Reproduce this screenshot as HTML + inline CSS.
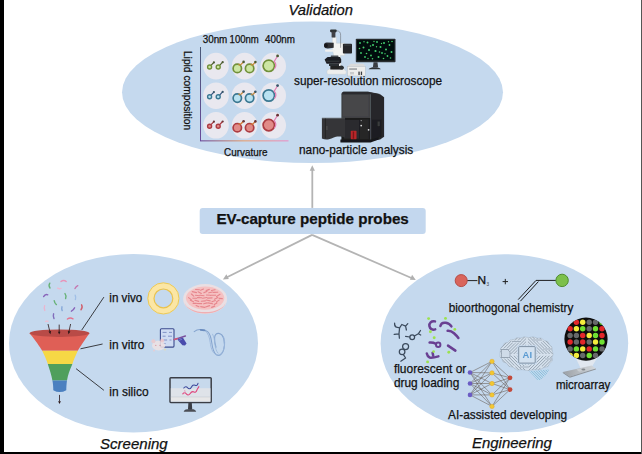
<!DOCTYPE html>
<html><head><meta charset="utf-8">
<style>
html,body{margin:0;padding:0;background:#fff;}
body{width:642px;height:454px;overflow:hidden;position:relative;}
svg{position:absolute;left:0;top:0;display:block;}
text{font-family:"Liberation Sans",sans-serif;fill:#111;stroke:#111;stroke-width:.25px;}
</style></head><body>
<svg width="642" height="454" viewBox="0 0 642 454">
<defs>
<linearGradient id="axv" x1="0" y1="0" x2="0" y2="1"><stop offset="0" stop-color="#4a5a78"/><stop offset="1" stop-color="#6a4a9a"/></linearGradient>
<linearGradient id="axh" x1="0" y1="0" x2="1" y2="0"><stop offset="0" stop-color="#6a4a9a"/><stop offset="0.5" stop-color="#e8a070"/><stop offset="1" stop-color="#e890c8"/></linearGradient>
<linearGradient id="slg" x1="0" y1="0" x2="1" y2="0"><stop offset="0" stop-color="#9a9fa5"/><stop offset=".45" stop-color="#b4b9be"/><stop offset="1" stop-color="#d4d8dc"/></linearGradient>
<filter id="b3" x="-10%" y="-10%" width="120%" height="120%"><feGaussianBlur stdDeviation="0.35"/></filter>
</defs>
<rect x="0" y="0" width="642" height="454" fill="#fff"/>
<!-- ELLIPSES -->
<g id="ellipses" fill="#c5d9ee">
<ellipse cx="312.5" cy="92.3" rx="190.5" ry="70.7"/>
<ellipse cx="133.5" cy="343.2" rx="124.5" ry="89.2"/>
<ellipse cx="504.4" cy="343.3" rx="123.8" ry="89.1"/>
</g>
<!-- ARROWS -->
<g id="arrows" stroke="#b4b4b4" stroke-width="1.8" fill="none" stroke-linecap="butt">
<path d="M312.3 207.9V169"/><path d="M312.3 165.2l-2.6 5.6h5.2z" fill="#b0b0b0" stroke="none"/>
<path d="M312.1 234.9L226 277.8"/><path d="M222.9 279.4l3.5-5.2 2.4 4.7z" fill="#b0b0b0" stroke="none"/>
<path d="M312.1 234.9L412.6 278.5"/><path d="M415.8 279.9l-3.700000000000001-5.1-2.2 4.9z" fill="#b0b0b0" stroke="none"/>
</g>
<!-- CENTER BOX -->
<rect x="199.7" y="207.9" width="226" height="26" rx="3" fill="#c3d7ee"/>
<text x="216.5" y="224.2" font-size="15" font-weight="bold" textLength="192.3" lengthAdjust="spacingAndGlyphs">EV-capture peptide probes</text>
<!-- TITLES -->
<g font-style="italic" font-size="15">
<text x="288.5" y="15.2" textLength="64.5" lengthAdjust="spacingAndGlyphs">Validation</text>
<text x="100" y="448.6" textLength="67.7" lengthAdjust="spacingAndGlyphs">Screening</text>
<text x="471.9" y="448.2" textLength="80" lengthAdjust="spacingAndGlyphs">Engineering</text>
</g>
<g id="top">
<!-- column labels -->
<g font-size="10">
<text x="202.7" y="43" textLength="24.6" lengthAdjust="spacingAndGlyphs">30nm</text>
<text x="229.6" y="43" textLength="29.2" lengthAdjust="spacingAndGlyphs">100nm</text>
<text x="265" y="43" textLength="30" lengthAdjust="spacingAndGlyphs">400nm</text>
<text x="224" y="155.5" textLength="43.5" lengthAdjust="spacingAndGlyphs">Curvature</text>
<text transform="translate(184.2 50.9) rotate(90)" font-size="10.3" textLength="79.2" lengthAdjust="spacingAndGlyphs">Lipid composition</text>
</g>
<!-- axes -->
<rect x="200" y="47" width="1" height="94" fill="url(#axv)"/>
<rect x="200" y="140.3" width="88.5" height="1.1" fill="url(#axh)"/>
<!-- grid discs -->
<g fill="#e9e8ef">
<ellipse cx="216" cy="66.1" rx="12.8" ry="13.3"/><ellipse cx="244.6" cy="66.1" rx="12.8" ry="13.3"/><ellipse cx="273.2" cy="66.1" rx="12.8" ry="13.3"/>
<ellipse cx="216" cy="95.7" rx="12.8" ry="13.3"/><ellipse cx="244.6" cy="95.7" rx="12.8" ry="13.3"/><ellipse cx="273.2" cy="95.7" rx="12.8" ry="13.3"/>
<ellipse cx="216" cy="125.3" rx="12.8" ry="13.3"/><ellipse cx="244.6" cy="125.3" rx="12.8" ry="13.3"/><ellipse cx="273.2" cy="125.3" rx="12.8" ry="13.3"/>
</g>
<!-- vesicle rows -->
<g id="ves-g" stroke="#71903a" fill="#cde6a4">
 <path d="M211 65.4l2.9-3M219.6 65.4l3-3.2" stroke="#4e5e2c" stroke-width="1.2" fill="none"/>
 <circle cx="209.6" cy="67" r="2" stroke-width="1.4"/><circle cx="218.2" cy="67" r="2" stroke-width="1.4"/>
 <path d="M240.4 65l3.2-3.100000000000001M252.6 65l2.8-2.900000000000002" stroke="#d08e3c" stroke-width="1.3" fill="none"/>
 <circle cx="237.3" cy="68.4" r="4.2" stroke-width="1.7"/><circle cx="249.6" cy="68.4" r="4.2" stroke-width="1.7"/>
 <path d="M240.400000000000006 65.6a4.2 4.2 0 0 0-2-1.300000000000001M252.7 65.6a4.2 4.2 0 0 0-2-1.300000000000001" stroke="#d08e3c" stroke-width="1.5" fill="none" opacity=".8"/>
 <circle cx="268.8" cy="65.8" r="5.7" stroke-width="1.7"/>
 <path d="M277.6 56l-3.4 5.400000000000001a5.7 5.7 0 0 1 .2 7.4" stroke="#e37fb4" stroke-width="1.2" fill="none"/>
 <g fill="#4b5a34" stroke="none"><circle cx="213.9" cy="62.4" r="1.1"/><circle cx="222.7" cy="62.2" r="1.1"/><circle cx="243.6" cy="61.9" r="1.3"/><circle cx="255.4" cy="62.1" r="1.3"/><circle cx="277.6" cy="55.9" r="1.4"/></g>
</g>
<g id="ves-b" stroke="#3b7892" fill="#b9e2f1" transform="translate(0 29.7)">
 <path d="M211 65.4l2.9-3M219.6 65.4l3-3.2" stroke="#34527c" stroke-width="1.2" fill="none"/>
 <circle cx="209.6" cy="67" r="2" stroke-width="1.4"/><circle cx="218.2" cy="67" r="2" stroke-width="1.4"/>
 <path d="M240.4 65l3.2-3.100000000000001M252.6 65l2.8-2.900000000000002" stroke="#d08e3c" stroke-width="1.3" fill="none"/>
 <circle cx="237.3" cy="68.4" r="4.2" stroke-width="1.7"/><circle cx="249.6" cy="68.4" r="4.2" stroke-width="1.7"/>
 <path d="M240.400000000000006 65.6a4.2 4.2 0 0 0-2-1.300000000000001M252.7 65.6a4.2 4.2 0 0 0-2-1.300000000000001" stroke="#d08e3c" stroke-width="1.5" fill="none" opacity=".8"/>
 <circle cx="268.8" cy="65.8" r="5.7" stroke-width="1.7"/>
 <path d="M277.6 56l-3.4 5.400000000000001a5.7 5.7 0 0 1 .2 7.4" stroke="#e37fb4" stroke-width="1.2" fill="none"/>
 <g fill="#37566a" stroke="none"><circle cx="213.9" cy="62.4" r="1.1"/><circle cx="222.7" cy="62.2" r="1.1"/><circle cx="243.6" cy="61.9" r="1.3"/><circle cx="255.4" cy="62.1" r="1.3"/><circle cx="277.6" cy="55.9" r="1.4"/></g>
</g>
<g id="ves-r" stroke="#ac3c42" fill="#e18b88" transform="translate(0 59.3)">
 <path d="M211 65.4l2.9-3M219.6 65.4l3-3.2" stroke="#a8323c" stroke-width="1.2" fill="none"/>
 <circle cx="209.6" cy="67" r="2" stroke-width="1.4"/><circle cx="218.2" cy="67" r="2" stroke-width="1.4"/>
 <path d="M240.4 65l3.2-3.100000000000001M252.6 65l2.8-2.900000000000002" stroke="#d57c34" stroke-width="1.3" fill="none"/>
 <circle cx="237.3" cy="68.4" r="4.2" stroke-width="1.7"/><circle cx="249.6" cy="68.4" r="4.2" stroke-width="1.7"/>
 <path d="M240.400000000000006 65.6a4.2 4.2 0 0 0-2-1.300000000000001M252.7 65.6a4.2 4.2 0 0 0-2-1.300000000000001" stroke="#d57c34" stroke-width="1.5" fill="none" opacity=".8"/>
 <circle cx="268.8" cy="65.8" r="5.7" stroke-width="1.7"/>
 <path d="M277.6 56l-3.4 5.400000000000001a5.7 5.7 0 0 1 .2 7.4" stroke="#e37fb4" stroke-width="1.2" fill="none"/>
 <g fill="#6a3536" stroke="none"><circle cx="213.9" cy="62.4" r="1.1"/><circle cx="222.7" cy="62.2" r="1.1"/><circle cx="243.6" cy="61.9" r="1.3"/><circle cx="255.4" cy="62.1" r="1.3"/><circle cx="277.6" cy="55.9" r="1.4"/></g>
</g>
<!-- instrument labels -->
<g font-size="12.8">
<text x="294" y="84.9" textLength="148" lengthAdjust="spacingAndGlyphs">super-resolution microscope</text>
<text x="299" y="154.4" textLength="114.2" lengthAdjust="spacingAndGlyphs">nano-particle analysis</text>
</g>
<g id="microscope" filter="url(#b3)">
 <!-- monitor -->
 <rect x="355.8" y="38.7" width="39.7" height="23.6" rx="0.8" fill="#2b2e33"/>
 <rect x="357" y="39.9" width="37.3" height="20.6" fill="#060907"/>
 <g fill="#3fd072">
 <circle cx="360" cy="43" r=".9"/><circle cx="363.5" cy="47.5" r="1"/><circle cx="361" cy="53" r=".9"/><circle cx="365" cy="57" r=".9"/><circle cx="367.5" cy="42.5" r="1"/><circle cx="369" cy="50" r="1"/><circle cx="371" cy="55.5" r=".9"/><circle cx="373" cy="45" r="1"/><circle cx="375.5" cy="51" r="1.1"/><circle cx="377" cy="42" r=".9"/><circle cx="378.5" cy="57" r="1"/><circle cx="380.5" cy="47" r="1"/><circle cx="382" cy="53" r=".9"/><circle cx="384" cy="43" r="1"/><circle cx="386" cy="49.5" r="1"/><circle cx="387.5" cy="56" r=".9"/><circle cx="389.5" cy="45" r=".9"/><circle cx="391.5" cy="52" r="1"/><circle cx="392" cy="41.5" r=".8"/><circle cx="366.5" cy="53.5" r=".8"/><circle cx="372.5" cy="58.800000000000004" r=".8"/><circle cx="383.5" cy="58.5" r=".8"/><circle cx="359.500000000000006" cy="48.5" r=".8"/><circle cx="364" cy="41.800000000000004" r=".7"/><circle cx="370.5" cy="46" r=".8"/><circle cx="376.5" cy="46.800000000000004" r=".7"/><circle cx="379.500000000000006" cy="52" r=".8"/><circle cx="388.5" cy="41.800000000000004" r=".7"/><circle cx="390.5" cy="58" r=".8"/><circle cx="385" cy="53.800000000000004" r=".7"/><circle cx="368" cy="58.5" r=".7"/><circle cx="374" cy="41.5" r=".7"/><circle cx="381.500000000000006" cy="43.5" r=".7"/>
 </g>
 <path d="M373.5 62.3h4l.6 5h-5.2z" fill="#3a3d42"/>
 <path d="M368.6 69.2c1-1.6 3-2 6-2s5.2.4 6.2 2z" fill="#2e3136"/>
 <!-- base (white) -->
 <path d="M327 70.5l3-1.800000000000001h13l3.2 2.2v2.6l-1.2.8h-17l-1-.8z" fill="#eeeeed" stroke="#c5c9cd" stroke-width=".4"/>
 <!-- column -->
 <path d="M332.4 37.2h4v6h8.2v12.4h-4.2l.6 14h-8l.6-14.600000000000001-1.200000000000001-5.4z" fill="#f3f3f2" stroke="#c5c9cd" stroke-width=".4"/>
 <!-- camera -->
 <rect x="330.1" y="29.4" width="6.5" height="2.8" rx=".9" fill="#2f3135"/>
 <rect x="331.6" y="31.8" width="3.8" height="5.6" rx=".5" fill="#3f4145"/>
 <path d="M336.6 30.8c3 .2 4 1.6 4 4.4v12.600000000000001" fill="none" stroke="#5c5f63" stroke-width=".5"/>
 <!-- eyepieces -->
 <path d="M324 44.4q.4-2 3-1.800000000000001l6.7.2v5l-5.7.6q-3.600000000000001.2-4-2z" fill="#2d2f33"/>
 <ellipse cx="326" cy="45.6" rx="1.8" ry="2" fill="#17181a"/>
 <!-- white plate under eyepiece -->
 <rect x="325.1" y="49.5" width="10" height="2.2" rx=".6" fill="#f0f0ef"/>
 <!-- camera box right -->
 <rect x="342.9" y="43.7" width="9.1" height="9.8" rx=".8" fill="#25272b"/>
 <rect x="344" y="44.6" width="7" height="1" fill="#3b3e43"/>
 <!-- objectives + stage (dark cluster) -->
 <path d="M331 55.6h7.2l1 3.4h-9.200000000000001z" fill="#4a4d52"/>
 <path d="M324.6 59.4l3-2.400000000000001h12.4l1.2 2.2v3.2l-2 1.4h-12.6z" fill="#1d1e21"/>
 <path d="M326.5 61.2h13" stroke="#4a4d52" stroke-width=".6"/>
 <rect x="329" y="63.6" width="10" height="2.4" fill="#2b2d31"/>
 <path d="M330.3 66h10.6l3 1.4-1 2.2h-12.600000000000001z" fill="#202124"/>
 <ellipse cx="341.4" cy="67.4" rx="2.4" ry="2" fill="#2b2d30"/>
 <!-- controller box -->
 <path d="M347.5 66.4l3.2-2.600000000000001h12.8l1.700000000000001 2.600000000000001z" fill="#d9dadb"/>
 <rect x="347.5" y="66.4" width="17.7" height="9.6" fill="#ededec" stroke="#b4b8bc" stroke-width=".4"/>
 <rect x="349.2" y="68.4" width="7.8" height="1.3" fill="#8b8f94"/>
 <rect x="358.4" y="71.6" width="1.3" height="3.4" fill="#3a3c40"/><rect x="360.8" y="71.6" width="1.3" height="3.4" fill="#3a3c40"/>
 <rect x="350" y="72" width="4" height="2.4" fill="#c9cbcd"/>
</g>

<g id="nta" filter="url(#b3)">
 <!-- right side -->
 <path d="M370.3 92.6l9.8 1.6 4 3v39.6l-4 2.6-9.8 1.8z" fill="#26272a"/>
 <path d="M372 119.5h9.6v17.2l-9.6 3z" fill="#1d1e20"/>
 <rect x="377.6" y="121.5" width="2.2" height="4.600000000000001" fill="#3a3b3e"/>
 <!-- front upper face -->
 <path d="M341.4 94.4q0-2.6 2.6-2.6h24q2.3 0 2.3 2.2v24h-28.900000000000002z" fill="#3f4042"/>
 <path d="M343 91.8h25.400000000000002l11.600000000000001 2.2-9.7.2h-28.6z" fill="#2b2c2e"/>
 <rect x="343" y="95" width="25.6" height="21.6" fill="#46474a"/>
 <!-- chamber -->
 <rect x="341.4" y="118" width="28.9" height="23.2" fill="#1c1d1f"/>
 <rect x="344" y="120" width="15" height="18.6" fill="#2b2c2e"/>
 <rect x="359.8" y="119.5" width="9" height="19.5" fill="#252628"/>
 <circle cx="361.2" cy="125.6" r=".9" fill="#d8d8d8"/><circle cx="368.6" cy="129.8" r=".9" fill="#d8d8d8"/><circle cx="361.2" cy="120.6" r=".6" fill="#aaa"/>
 <rect x="350.8" y="130.7" width="5.7" height="8.8" rx=".8" fill="#b9262b"/>
 <rect x="352.7" y="131.5" width="1.4" height="7.2" fill="#7e1519"/>
 <!-- base -->
 <path d="M340.4 139.4h30.200000000000003l8-2.2v2.4l-8 2.800000000000001h-30.200000000000003z" fill="#18191a"/>
 <!-- door -->
 <path d="M321.9 118.2h23.2v19.6c-3.4-1.8-8.6-1.8-12 0-3.600000000000001 1.800000000000001-7.6 2.600000000000001-11.200000000000001.8z" fill="#343537"/>
 <path d="M325.4 118.2v20.2" stroke="#1f2022" stroke-width=".8"/>
 <path d="M321.9 118.2h23.2" stroke="#55575a" stroke-width=".7"/>
 <rect x="326.5" y="126" width=".9" height="4" fill="#555"/>
</g>

</g>

<g id="left">
<!-- labels -->
<g font-size="12.8">
<text x="109.3" y="301.5" textLength="33" lengthAdjust="spacingAndGlyphs">in vivo</text>
<text x="109.3" y="348.8" textLength="35" lengthAdjust="spacingAndGlyphs">in vitro</text>
<text x="109.3" y="396.1" textLength="39.3" lengthAdjust="spacingAndGlyphs">in silico</text>
</g>
<!-- leader lines -->
<g stroke="#2a2a2e" stroke-width=".9" fill="none">
<path d="M81.7 330.1L103.9 297.1"/><path d="M80.5 348.8L102.6 344"/><path d="M76.1 368.7L103.9 390.3"/>
</g>
<!-- peptide squiggles -->
<g fill="none" stroke-width="1.4" stroke-linecap="round" opacity=".9">
<path d="M49.800000000000004 283.2q-1.6 2.4.2 4.800000000000001" stroke="#5fae6c"/>
<path d="M61 281.6q2.6-2.4 5.2 0" stroke="#ec8db4"/>
<path d="M57.6 288.2q1.8 1 3.4.2" stroke="#f2b6cf"/>
<path d="M75 288.6q1-2.4 2.800000000000001-3" stroke="#c66aa8"/>
<path d="M43.6 296.6q1.6-3 4.2-1.800000000000001" stroke="#8257b4"/>
<path d="M65 293.6q1.8 2.4.6 5" stroke="#5fae6c"/>
<path d="M75.2 295.2q1 2.2.2 4.4" stroke="#9dbde6"/>
<path d="M54.2 300.6q.4 2.600000000000001 2.2 4" stroke="#5fae6c"/>
<path d="M81.6 304.8q1.400000000000001 2.4-.6 5" stroke="#d2525e"/>
<path d="M71.4 311.2q2.2-1 3.2-3.4" stroke="#8257b4"/>
<path d="M44.6 305.6q-.8 2.4.2 4.800000000000001" stroke="#efb2cc"/>
<path d="M62 306.800000000000006q-.6 2 .2 3.800000000000001" stroke="#7fa3d6"/>
<path d="M53.6 313.8q-.8 2.4.4 4.800000000000001" stroke="#7a62b6"/>
<path d="M67.4 319q2.800000000000001-2 5.6-.2" stroke="#e66a86"/>
<path d="M45.6 321.6q1.2-1.2 2.4-.2" stroke="#f0bfd2"/>
</g>
<!-- funnel -->
<g filter="url(#b3)">
<path d="M29.5 333.2C36 341 40 347 42.2 350.8H77.8C80 347 84 341 89.5 333.2z" fill="#df5f57"/>
<path d="M42.2 350.8C44.500000000000004 355.5 46.5 360 47.8 364H72.4C73.7 360 75.7 355.5 77.8 350.8z" fill="#f6d845"/>
<path d="M47.8 364C49.800000000000004 370 51.5 375.5 52.4 380.4H67C67.9 375.5 69.60000000000001 370 72.4 364z" fill="#4f9f5c"/>
<path d="M52.4 380.4C53.1 384 53.3 387 53.3 390.2Q59.8 394 66.3 390.2C66.3 387 66.5 384 67 380.4z" fill="#4b80c0"/>
<ellipse cx="59.5" cy="333.2" rx="30" ry="3.7" fill="#b94b46"/>
</g>
<!-- inflow arrows -->
<g stroke="#2a1616" stroke-width=".8" fill="#2a1616">
<path d="M48 324l1.8 7.4"/><path d="M59.2 324.6v7.4"/><path d="M70.6 324l-1.6 7.4"/>
<path d="M50.4 334.2l-1.900000000000001-2.6 2.600000000000001-.6zM59.2 334.6l-1.300000000000001-2.800000000000001h2.600000000000001zM68.5 334.2l-.7-3.200000000000001 2.600000000000001.6z" stroke="none"/>
<path d="M59.5 394.9v6.5"/><path d="M59.5 404.1l-1.4-2.900000000000002h2.800000000000001z" stroke="none"/>
</g>
<!-- ring -->
<circle cx="163.4" cy="298.4" r="12.5" fill="none" stroke="#fbe6a4" stroke-width="6.4"/>
<circle cx="163.4" cy="298.4" r="15.6" fill="none" stroke="#ebc957" stroke-width="1"/>
<circle cx="163.4" cy="298.4" r="9.4" fill="none" stroke="#e9c24e" stroke-width="1.2"/>
<!-- petri dish -->
<g filter="url(#b3)" transform="translate(0 .7)">
<ellipse cx="205.1" cy="298.3" rx="22" ry="15" fill="#eadfe3"/>
<path d="M184.6 301.5a20.6 12.6 0 0 0 41 0a20.6 11 0 0 1-41 0z" fill="#f0aeb2"/>
<ellipse cx="205.1" cy="297.4" rx="19.2" ry="11.6" fill="#f5c1c2"/>
<path d="M195.6 288.8l3.8 0.2M200.6 289.5l2.9 -1.2M206.2 289.9l3.1 -1.2M211.5 289.8l3.5 -0.8M192.3 290.9l4.2 1.0M198.1 291.1l3.2 1.7M203.8 292.0l3.1 -1.3M208.8 292.1l3.8 -0.8M213.6 291.7l4.1 -0.2M191.4 293.3l2.4 2.1M195.5 294.6l3.8 0.4M200.1 294.5l3.9 0.5M206.5 294.3l3.9 0.3M211.0 294.6l4.5 -0.1M216.6 295.9l3.4 -2.3M188.5 296.9l2.8 2.0M192.9 297.5l3.7 0.1M197.5 296.9l4.2 0.2M202.6 297.5l4.3 -0.7M207.7 297.4l4.4 -0.2M214.5 298.5l3.3 -1.6M219.1 297.7l3.2 0.2M190.4 299.5l3.1 1.5M194.9 299.6l3.8 1.1M201.3 300.5l4.0 -0.3M206.1 299.3l4.1 0.9M211.9 301.1l3.4 -1.3M216.5 301.2l2.6 -1.8M193.1 302.6l3.2 0.0M197.3 302.8l4.4 0.1M203.7 303.1l3.4 -0.9M208.1 302.2l4.5 0.9M214.3 303.9l2.6 -1.7M196.1 304.8l2.8 1.2M200.7 305.9l4.0 0.8M205.6 306.3l4.0 -1.4M211.6 306.7l3.1 -1.3" stroke="#e6868d" stroke-width="1.15" stroke-linecap="round" fill="none"/>
</g>
<g id="invitro" filter="url(#b3)">
 <!-- clipboard -->
 <rect x="160.4" y="328.7" width="13.6" height="18.4" rx="1" fill="#cfdcf3" stroke="#3d4c8e" stroke-width="1.1"/>
 <g stroke="#6f80bb" stroke-width=".8"><path d="M162.6 332.4h4M169 332.4h3M162.6 336.2h3M168 336.2h4M162.6 340h4.5M169.5 340h2M162.6 343.6h3"/></g>
 <!-- mouse -->
 <g opacity=".85">
 <ellipse cx="158.6" cy="345.6" rx="6.6" ry="4.8" fill="#efe3e4"/>
 <circle cx="153.4" cy="341.2" r="2" fill="#efc9cc"/><circle cx="162.2" cy="340.6" r="2" fill="#efc9cc"/>
 <circle cx="155.8" cy="345.4" r=".6" fill="#d98a92"/><circle cx="160" cy="345.4" r=".6" fill="#d98a92"/>
 <circle cx="154" cy="350.6" r=".9" fill="#efc9cc"/><circle cx="165" cy="349.6" r=".9" fill="#f0dca0"/>
 </g>
 <!-- pipette + tube -->
 <path d="M174.2 339.6l11.2-3.6" stroke="#7a4f9c" stroke-width="1.4" stroke-linecap="round"/>
 <path d="M174.4 339.5l3-1" stroke="#d15a7a" stroke-width="1.4" stroke-linecap="round"/>
 <path d="M177.4 339.6l5.4-2.2 3.8 6-1.6 2.2-2.6-.4z" fill="#4a4cac"/>
 <path d="M178.6 340.6l3.4-1.400000000000001" stroke="#8890d8" stroke-width=".7"/>
 <!-- catheter -->
 <g fill="none" stroke="#86a5cf" stroke-width="1.1" stroke-linecap="round">
 <path d="M194.200000000000006 331.6c2.2-1.8 4.8-2.4 7.2-2 2.6.4 4.8 1 6.2 2 2.8 2.4 3.6 7 4.2 11.4.6 4.8 1.8 9.6 4.6 11.8 3 2 5.8-.6 7-4.2 1.2-3.8 1.4-8 .4-11.6-.8-3-2.6-5.2-5-5.6-2.6-.4-4 1.600000000000001-4.2 4.4-.2 3.2.4 6.600000000000001 1.4 9.4"/>
 <path d="M205.200000000000006 330.8c3 2.2 4.4 7 5 11.6.6 5 2 10.200000000000001 5.4 12 3.8 1.800000000000001 7-1.4 8.2-5.4 1.2-4 1.2-8.6-.2-12.2" stroke="#9bb7db" stroke-width=".9"/>
 <path d="M212.6 334.200000000000006c1.4 2.6 2 6.4 2.4 10 .4 3.600000000000001 1.2 7 3 9" stroke="#9bb7db" stroke-width=".8"/>
 </g>
 <path d="M200.600000000000006 329.800000000000006l3.8.6" stroke="#6a8cbe" stroke-width="1.7" stroke-linecap="round"/>
</g>

<g id="insilico">
 <rect x="170" y="377.8" width="41.2" height="24.6" rx=".8" fill="#c7d9ec" stroke="#3b3e46" stroke-width="1.5"/>
 <rect x="170.8" y="388.2" width="39.6" height="8.6" fill="#dfe3e9"/>
 <rect x="170.8" y="396.8" width="39.6" height="4.800000000000001" fill="#e7e7e8"/>
 <path d="M170.8 397h39.6" stroke="#c9ccd1" stroke-width=".6"/>
 <path d="M188.4 403h3.4l.4 6.4h-4.2z" fill="#3b3e46"/>
 <path d="M183.6 411.7c1-2 2.6-2.6 6.4-2.6s5.2.6 6.200000000000001 2.6z" fill="#4a4d55"/>
 <g fill="none" stroke-linecap="round" stroke-width="1.1">
 <path d="M183.800000000000006 388c1.2-1.6 2.8-1.6 3.8-.2s2.600000000000001 1.4 3.600000000000001-.4 2.4-3 3.8-2.2 2.4.2 3-1.800000000000001" stroke="#3f4a9c"/>
 <path d="M182.8 393.8c1.2-1.4 2.6-1.2 3.4 0s2.6 1.800000000000001 3.800000000000001 0 2.6-2.6 4-1.800000000000001 2.4-.4 3-2.2 1.4-1.6 1.8-3.2" stroke="#e0447c"/>
 <path d="M184.800000000000006 390.4c.6 1 .2 2-.6 2.600000000000001" stroke="#e88ab0" stroke-width=".8"/>
 </g>
</g>

</g>

<g id="right">
<!-- chemistry -->
<path d="M467 280.6h10.4" stroke="#222" stroke-width="1"/>
<circle cx="461.2" cy="280.6" r="6" fill="#d9655c" stroke="#b64c46" stroke-width="1"/>
<text x="477.4" y="284.4" font-size="10" textLength="8.6" lengthAdjust="spacingAndGlyphs">N</text>
<text x="486.6" y="285.8" font-size="4.6" style="fill:#444;stroke:none">3</text>
<path d="M502.6 281.6h5.4M505.3 278.90000000000003v5.4" stroke="#222" stroke-width="1"/>
<path d="M556 280.4h-20L518.2 299.6M538.4 281.6L520.4 301.2" stroke="#1e1e1e" stroke-width="1" fill="none"/>
<circle cx="562.1" cy="280.4" r="6.2" fill="#7cc04b" stroke="#4f8e2e" stroke-width="1"/>
<g font-size="12.8">
<text x="448.7" y="311.6" textLength="124.6" lengthAdjust="spacingAndGlyphs">bioorthogonal chemistry</text>
<text x="393.9" y="373.3" textLength="72.4" lengthAdjust="spacingAndGlyphs">fluorescent or</text>
<text x="393.9" y="387.1" textLength="65.4" lengthAdjust="spacingAndGlyphs">drug loading</text>
<text x="448" y="418.7" textLength="119.2" lengthAdjust="spacingAndGlyphs">AI-assisted developing</text>
<text x="555.9" y="388.9" textLength="54.5" lengthAdjust="spacingAndGlyphs">microarray</text>
</g>
<g id="chem" fill="none" stroke="#3b4a5c" stroke-width="1.25" stroke-linecap="round" stroke-linejoin="round">
 <path d="M394.6 323.2q-.2 3.2 1.800000000000001 4l3.2.6 2.2-3.300000000000001 3.800000000000001 1.600000000000001 2.2-2.4M405.6 326.1l.8 3.900000000000001M399.6 327.8l-.6 6-4.800000000000001.6M399 333.8l.4 4.4"/>
 <circle cx="412.2" cy="337.3" r="2.4"/>
 <path d="M409.8 337l-4.2-.6M414.4 336l3.900000000000001-2.2 2.2-3.300000000000001M418.3 333.8l2.400000000000001 1.2"/>
 <circle cx="405.6" cy="346.5" r="3"/><circle cx="402.1" cy="351.8" r="2.8"/>
 <path d="M403.4 354.6l2.2 3.400000000000001-4.800000000000001 3.2"/>
</g>
<g id="pep" fill="none" stroke="#693f92" stroke-width="2.5" stroke-linecap="round" stroke-linejoin="round">
 <path d="M435 321.4c-3.8-.8-6 1.8-5.6 4.6s3 4.2 5.8 3.4"/>
 <path d="M440.4 326c.6-2.600000000000001 3-3.6 5.4-3.200000000000001s4.4 1.600000000000001 5.6 3.600000000000001"/>
 <path d="M447.6 330.8c2.6-.2 4.6.8 6.4 2.4s3.2 3 4.4 4.800000000000001"/>
 <path d="M429.6 342.6c2.4-.2 4.4.2 6 1.200000000000001"/>
 <path d="M448 345.6l7.4 5"/>
 <path d="M426.8 353.4c.4 2 1.4 3.4 3 4.2 2.6.2 5.800000000000001-.4 8.6-1.200000000000001"/>
 <path d="M432.6 352.8l.6 3"/>
</g>
<circle cx="438.2" cy="344.8" r="2.2" fill="none" stroke="#693f92" stroke-width="2"/>
<g fill="#9be24e">
 <circle cx="428.6" cy="318.6" r="1.45"/><circle cx="430.4" cy="331.8" r="1.45"/><circle cx="445.5" cy="318.4" r="1.45"/><circle cx="454.8" cy="329.4" r="1.45"/><circle cx="434.2" cy="337.8" r="1.45"/><circle cx="448.8" cy="352.2" r="1.45"/><circle cx="433.6" cy="351.6" r="1.35"/><circle cx="427.6" cy="361.9" r="1.45"/>
</g>

<g id="nn">
<g stroke="#5b4f45" stroke-width=".5" fill="none">
<path d="M470.0 372.5L492.0 361.4M470.0 372.5L492.0 372.9M470.0 372.5L492.0 383.5M470.0 372.5L492.0 394.9M470.0 372.5L492.0 406.4M470.0 383.5L492.0 361.4M470.0 383.5L492.0 372.9M470.0 383.5L492.0 383.5M470.0 383.5L492.0 394.9M470.0 383.5L492.0 406.4M470.0 394.9L492.0 361.4M470.0 394.9L492.0 372.9M470.0 394.9L492.0 383.5M470.0 394.9L492.0 394.9M470.0 394.9L492.0 406.4M492.0 361.4L510.0 377.8M492.0 361.4L510.0 389.6M492.0 372.9L510.0 377.8M492.0 372.9L510.0 389.6M492.0 383.5L510.0 377.8M492.0 383.5L510.0 389.6M492.0 394.9L510.0 377.8M492.0 394.9L510.0 389.6M492.0 406.4L510.0 377.8M492.0 406.4L510.0 389.6"/>
</g>
<g fill="#6b5cc4"><circle cx="470.0" cy="372.5" r="2.3"/><circle cx="470.0" cy="383.5" r="2.3"/><circle cx="470.0" cy="394.9" r="2.3"/></g>
<g fill="#f2c832" stroke="#e3a92a" stroke-width=".5"><circle cx="492.0" cy="361.4" r="2.2"/><circle cx="492.0" cy="372.9" r="2.2"/><circle cx="492.0" cy="383.5" r="2.2"/><circle cx="492.0" cy="394.9" r="2.2"/><circle cx="492.0" cy="406.4" r="2.2"/></g>
<g fill="#c24a3c"><circle cx="510.0" cy="377.8" r="2.4"/><circle cx="510.0" cy="389.6" r="2.4"/></g>
</g>
<g id="brain" filter="url(#b3)">
<defs><clipPath id="brc"><path d="M500 353.5L500.6 348.6 503 345.6 504.6 343 508 342.4 510 340 514 339.6 516.500000000000006 337.800000000000006 521 338 524 336.800000000000006 529 337.6 533 336.800000000000006 537.500000000000006 338.2 541 338 544.500000000000006 340.6 548 341.6 549.6 345 552 347 552.2 351 553.2 354 552 357.6 552.4 361 549.6 363.6 548 366.6 543.6 367.6 540 369.8 534 369.6 528 370.6 522 369.6 517 370 513 367.2 509 366.4 506.6 363.2 503 362 501.8 358.6 500 357z"/></clipPath><clipPath id="stc"><path d="M529 371.2L549.5 369.5 546 375 538.5 381.5 535.5 378z"/></clipPath></defs>
<path d="M500 353.5L500.6 348.6 503 345.6 504.6 343 508 342.4 510 340 514 339.6 516.500000000000006 337.800000000000006 521 338 524 336.800000000000006 529 337.6 533 336.800000000000006 537.500000000000006 338.2 541 338 544.500000000000006 340.6 548 341.6 549.6 345 552 347 552.2 351 553.2 354 552 357.6 552.4 361 549.6 363.6 548 366.6 543.6 367.6 540 369.8 534 369.6 528 370.6 522 369.6 517 370 513 367.2 509 366.4 506.6 363.2 503 362 501.8 358.6 500 357z" fill="#d6e1ed"/>
<g clip-path="url(#brc)"><path d="M516.0 354.8L527.0 343.8L538.0 354.8L527.0 365.8ZM512.9 354.8L527.0 340.7L541.1 354.8L527.0 368.9ZM509.8 354.8L527.0 337.6L544.2 354.8L527.0 372.0ZM506.7 354.8L527.0 334.5L547.3 354.8L527.0 375.1ZM503.6 354.8L527.0 331.4L550.4 354.8L527.0 378.2ZM500.5 354.8L527.0 328.3L553.5 354.8L527.0 381.3ZM497.4 354.8L527.0 325.2L556.6 354.8L527.0 384.4ZM494.3 354.8L527.0 322.1L559.7 354.8L527.0 387.5ZM491.2 354.8L527.0 319.0L562.8 354.8L527.0 390.6ZM488.1 354.8L527.0 315.9L565.9 354.8L527.0 393.7ZM485.0 354.8L527.0 312.8L569.0 354.8L527.0 396.8ZM481.9 354.8L527.0 309.7L572.1 354.8L527.0 399.9Z" fill="none" stroke="#7d8c9b" stroke-width=".7"/>
<path d="M527 334v12M527 364v8M496 354.800000000000006h22M536 354.800000000000006h20M509 337l6 6M545 337l-6 6M509 372l6-6M546 372l-6-6" stroke="#d6e1ed" stroke-width="1.8"/><path d="M499 349.5h10M499 357.5h9M543 349h10M545 359h9M512 341.5h9M533 340h9M520 367h9" stroke="#d6e1ed" stroke-width="2"/>
<path d="M499 349.5h10M499 357.5h9M543 349h10M545 359h9M512 341.5h9M533 340h9M520 367h9" stroke="#7d8c9b" stroke-width=".6"/>
</g>
<path d="M500 353.5L500.6 348.6 503 345.6 504.6 343 508 342.4 510 340 514 339.6 516.500000000000006 337.800000000000006 521 338 524 336.800000000000006 529 337.6 533 336.800000000000006 537.500000000000006 338.2 541 338 544.500000000000006 340.6 548 341.6 549.6 345 552 347 552.2 351 553.2 354 552 357.6 552.4 361 549.6 363.6 548 366.6 543.6 367.6 540 369.8 534 369.6 528 370.6 522 369.6 517 370 513 367.2 509 366.4 506.6 363.2 503 362 501.8 358.6 500 357z" fill="none" stroke="#8797a6" stroke-width=".6" opacity=".45"/>
<path d="M501.5 349.5h6l2.5 2.5v5.5h-8.5z" fill="#cfdbe8" stroke="#7d8c9b" stroke-width=".6"/>
<path d="M529 371.2L549.5 369.5 546 375 538.5 381.5 535.5 378z" fill="#c3dcee"/>
<g clip-path="url(#stc)"><path d="M495.0 366.0l14 14M497.6 366.0l14 14M500.2 366.0l14 14M502.8 366.0l14 14M505.4 366.0l14 14M508.0 366.0l14 14M510.6 366.0l14 14M513.2 366.0l14 14M515.8 366.0l14 14M518.4 366.0l14 14M521.0 366.0l14 14M523.6 366.0l14 14M526.2 366.0l14 14M528.8 366.0l14 14M531.4 366.0l14 14M534.0 366.0l14 14M536.6 366.0l14 14M539.2 366.0l14 14M541.8 366.0l14 14M544.4 366.0l14 14M547.0 366.0l14 14M549.6 366.0l14 14M552.2 366.0l14 14M554.8 366.0l14 14M557.4 366.0l14 14M560.0 366.0l14 14M562.6 366.0l14 14" fill="none" stroke="#84b7d9" stroke-width=".95"/></g>
<rect x="517.4" y="345.4" width="19.2" height="19" fill="#c9dbee"/>
<rect x="518.7" y="346.6" width="16.5" height="16.5" rx=".8" fill="#d4e2f0" stroke="#6d7e8f" stroke-width=".8"/>
<text x="522.6" y="357.8" font-size="9" font-weight="bold" style="fill:#5b9bd2;stroke:none" textLength="9.4" lengthAdjust="spacingAndGlyphs">AI</text>
</g>
<g id="array">
<path d="M575.5 357.5L581 369h9.5L597.5 357.5z" fill="#e3e8ee" opacity=".9"/>
<path d="M562.8 371.9L591.6 365.5 595.8 368.4 569.8 376.6z" fill="url(#slg)"/>
<path d="M562.8 371.9L569.8 376.6 569.8 377.8 562.8 373z" fill="#8a8f94"/><path d="M569.8 376.6L595.8 368.4v1.2L569.8 377.8z" fill="#8f9499"/>
<path d="M576.5 369.4l9.5-2.2 2.6 2-9.5 2.6z" fill="#c9cdd1"/><ellipse cx="583.4" cy="369.4" rx="2" ry="1" fill="#83888d"/>
<defs><clipPath id="arrc"><circle cx="586" cy="339.1" r="21.6"/></clipPath></defs>
<circle cx="586" cy="339.1" r="21.6" fill="#0d0d0d"/>
<g clip-path="url(#arrc)">
<circle cx="576.4" cy="322.3" r="2.7" fill="#e3262a"/>
<circle cx="582.7" cy="322.3" r="2.7" fill="#f4ec3c"/>
<circle cx="589.2" cy="322.3" r="2.7" fill="#66686a"/>
<circle cx="595.5" cy="322.3" r="2.7" fill="#66686a"/>
<circle cx="602.0" cy="322.3" r="2.7" fill="#6fe032"/>
<circle cx="570.1" cy="328.8" r="2.7" fill="#e3262a"/>
<circle cx="576.4" cy="328.8" r="2.7" fill="#f4ec3c"/>
<circle cx="582.7" cy="328.8" r="2.7" fill="#6fe032"/>
<circle cx="589.2" cy="328.8" r="2.7" fill="#66686a"/>
<circle cx="595.5" cy="328.8" r="2.7" fill="#6fe032"/>
<circle cx="602.0" cy="328.8" r="2.7" fill="#e3262a"/>
<circle cx="570.1" cy="335.5" r="2.7" fill="#66686a"/>
<circle cx="576.4" cy="335.5" r="2.7" fill="#66686a"/>
<circle cx="582.7" cy="335.5" r="2.7" fill="#e3262a"/>
<circle cx="589.2" cy="335.5" r="2.7" fill="#f4ec3c"/>
<circle cx="595.5" cy="335.5" r="2.7" fill="#6fe032"/>
<circle cx="602.0" cy="335.5" r="2.7" fill="#e3262a"/>
<circle cx="570.1" cy="342.0" r="2.7" fill="#e3262a"/>
<circle cx="576.4" cy="342.0" r="2.7" fill="#66686a"/>
<circle cx="582.7" cy="342.0" r="2.7" fill="#e3262a"/>
<circle cx="589.2" cy="342.0" r="2.7" fill="#66686a"/>
<circle cx="595.5" cy="342.0" r="2.7" fill="#f4ec3c"/>
<circle cx="602.0" cy="342.0" r="2.7" fill="#6fe032"/>
<circle cx="570.1" cy="348.9" r="2.7" fill="#66686a"/>
<circle cx="576.4" cy="348.9" r="2.7" fill="#6fe032"/>
<circle cx="582.7" cy="348.9" r="2.7" fill="#f4ec3c"/>
<circle cx="589.2" cy="348.9" r="2.7" fill="#e3262a"/>
<circle cx="595.5" cy="348.9" r="2.7" fill="#6fe032"/>
<circle cx="602.0" cy="348.9" r="2.7" fill="#66686a"/>
<circle cx="570.1" cy="355.5" r="2.7" fill="#f4ec3c"/>
<circle cx="576.4" cy="355.5" r="2.7" fill="#f4ec3c"/>
<circle cx="582.7" cy="355.5" r="2.7" fill="#66686a"/>
<circle cx="589.2" cy="355.5" r="2.7" fill="#6fe032"/>
<circle cx="595.5" cy="355.5" r="2.7" fill="#66686a"/>
</g></g>
</g>

<!-- BORDERS -->
<rect x="0" y="0" width="4" height="454" fill="#000"/>
<rect x="0" y="452" width="642" height="2" fill="#000"/>
<rect x="641" y="0" width="1" height="454" fill="#555"/>
</svg>
</body></html>
